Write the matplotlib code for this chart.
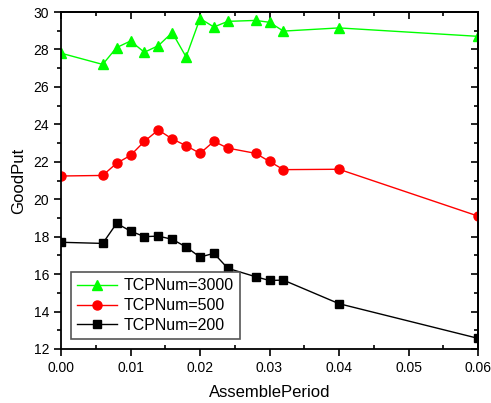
import matplotlib
matplotlib.use('Agg')
import matplotlib.pyplot as plt
from matplotlib.ticker import MultipleLocator

plt.rcParams['font.family'] = ['Liberation Sans', 'DejaVu Sans']

period = [0.0, 0.006, 0.008, 0.010, 0.012, 0.014, 0.016, 0.018, 0.020,
          0.022, 0.024, 0.028, 0.030, 0.032, 0.040, 0.060]
tcp3000 = [27.8, 27.2, 28.1, 28.45, 27.85, 28.2, 28.9, 27.6, 29.65,
           29.2, 29.5, 29.55, 29.45, 28.98, 29.15, 28.7]
tcp500 = [21.24, 21.27, 21.92, 22.34, 23.09, 23.70, 23.22, 22.86, 22.45,
          23.09, 22.73, 22.45, 22.02, 21.58, 21.60, 19.1]
tcp200 = [17.70, 17.64, 18.71, 18.30, 18.0, 18.03, 17.86, 17.45, 16.91,
          17.11, 16.31, 15.86, 15.66, 15.68, 14.42, 12.57]
xticks = [0, 0.01, 0.02, 0.03, 0.04, 0.05, 0.06]
xticklabels = ['0.00', '0.01', '0.02', '0.03', '0.04', '0.05', '0.06']

fig = plt.figure(figsize=(4.91, 4.03), dpi=100)
ax = fig.add_axes([61/491, 54/403, 417/491, 337/403])

ax.plot(period, tcp3000, '-^', color='#00ff00', lw=1, ms=7, label='TCPNum=3000')
ax.plot(period, tcp500, '-o', color='red', lw=1, ms=6.5, label='TCPNum=500')
ax.plot(period, tcp200, '-s', color='black', lw=1, ms=5.5, label='TCPNum=200')

ax.set_xlim(0, 0.06)
ax.set_ylim(12, 30)
ax.set_xticks(xticks)
ax.set_xticklabels(xticklabels)
ax.xaxis.set_minor_locator(MultipleLocator(0.005))
ax.yaxis.set_major_locator(MultipleLocator(2))
ax.yaxis.set_minor_locator(MultipleLocator(1))

ax.tick_params(axis='both', which='major', labelsize=10, width=1.2, length=5)
ax.tick_params(axis='both', which='minor', width=1.2, length=3)
ax.tick_params(axis='x', which='minor', direction='in')
for sp in ax.spines.values():
    sp.set_linewidth(1.3)

# top and right ticks pointing inward, no labels
top = ax.secondary_xaxis('top')
top.set_xticks(xticks)
top.xaxis.set_minor_locator(MultipleLocator(0.005))
top.tick_params(which='both', direction='in', labeltop=False, width=1.2)
top.tick_params(which='major', length=5)
top.tick_params(which='minor', length=3)
right = ax.secondary_yaxis('right')
right.yaxis.set_major_locator(MultipleLocator(2))
right.yaxis.set_minor_locator(MultipleLocator(1))
right.tick_params(which='both', direction='in', labelright=False, width=1.2)
right.tick_params(which='major', length=5)
right.tick_params(which='minor', length=3)
for sec in (top, right):
    for sp in sec.spines.values():
        sp.set_linewidth(1.3)

ax.set_xlabel('AssemblePeriod', fontsize=12, labelpad=7)
ax.set_ylabel('GoodPut', fontsize=12, labelpad=5)

leg = ax.legend(loc='lower left', bbox_to_anchor=(0.0, 0.0), borderaxespad=0.6,
                fontsize=11.5, handlelength=2.5, fancybox=False, framealpha=1,
                borderpad=0.4, labelspacing=0.3, handletextpad=0.4)
leg.get_frame().set_edgecolor('#555555')
leg.get_frame().set_linewidth(1.2)

fig.savefig('out.png', dpi=100)
